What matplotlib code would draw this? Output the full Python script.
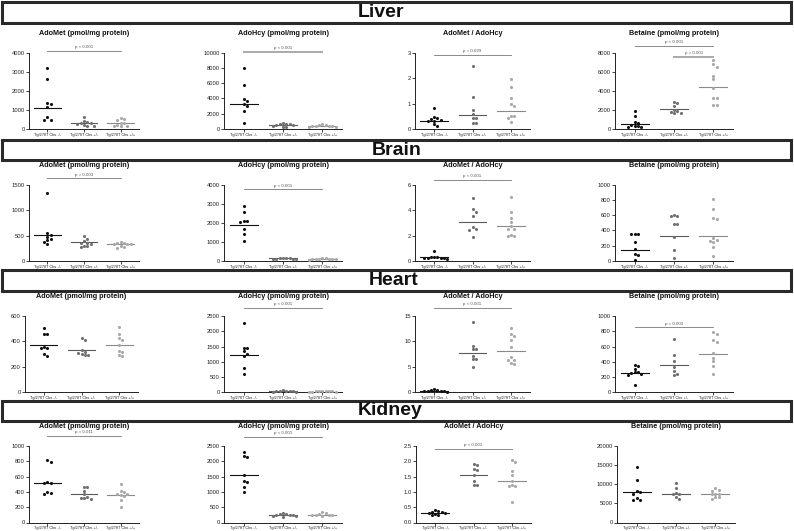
import matplotlib
matplotlib.use("Agg")
import matplotlib.pyplot as plt
from matplotlib.patches import Rectangle
import numpy as np

plt.rcParams['font.family'] = ['Liberation Sans', 'DejaVu Sans']

groups = ['TgI278T Cbs -/-', 'TgI278T Cbs +/-', 'TgI278T Cbs +/+']
organs = ['Liver', 'Brain', 'Heart', 'Kidney']
titles = ['AdoMet (pmol/mg protein)', 'AdoHcy (pmol/mg protein)',
          'AdoMet / AdoHcy', 'Betaine (pmol/mg protein)']

# ---- Liver ----
liver_adomet = [[3200, 2620, 1345, 1293, 1135, 611, 472, 472],
                [650, 420, 380, 330, 300, 260, 230, 180, 160],
                [560, 520, 470, 340, 300, 200, 170, 160, 150]]
liver_adomet_med = [1083, 300, 300]
liver_adohcy = [[7950, 5800, 3890, 3710, 3280, 3010, 2310, 740],
                [750, 700, 650, 600, 550, 500, 450, 300, 250],
                [600, 550, 500, 450, 420, 400, 350, 300, 250]]
liver_adohcy_med = [3230, 550, 400]
liver_ratio = [[0.82, 0.46, 0.42, 0.4, 0.36, 0.33, 0.3, 0.2, 0.1],
               [2.48, 1.25, 0.75, 0.6, 0.42, 0.42, 0.25, 0.22],
               [1.97, 1.65, 1.23, 1.0, 0.92, 0.52, 0.5, 0.42, 0.26]]
liver_ratio_med = [0.33, 0.55, 0.71]
liver_betaine = [[1900, 1400, 700, 650, 450, 350, 300, 250, 200],
                 [2850, 2700, 2400, 2000, 1900, 1750, 1700, 1650],
                 [7200, 6800, 6550, 5600, 5200, 4300, 3300, 3200, 2550, 2500]]
liver_betaine_med = [520, 2060, 4370]

# ---- Brain ----
brain_adomet = [[1340, 560, 510, 480, 440, 410, 380, 330],
                [500, 440, 400, 360, 350, 340, 300, 290, 280],
                [380, 350, 345, 340, 335, 330, 300, 270, 250]]
brain_adomet_med = [520, 365, 326]
brain_adohcy = [[2890, 2570, 2120, 2090, 2020, 1670, 1410, 1040],
                [170, 160, 150, 140, 130, 120, 110, 100],
                [160, 140, 130, 120, 110, 100, 90, 80, 70]]
brain_adohcy_med = [1913, 139, 104]
brain_ratio = [[0.78, 0.35, 0.3, 0.28, 0.25, 0.22, 0.2, 0.2, 0.18],
               [4.95, 4.05, 3.85, 3.55, 2.65, 2.55, 2.45, 1.9],
               [5.05, 3.85, 3.35, 3.05, 2.75, 2.5, 2.5, 2.05, 2.0, 2.0]]
brain_ratio_med = [0.29, 3.08, 2.77]
brain_betaine = [[360, 355, 350, 250, 155, 90, 80, 15],
                 [600, 590, 590, 490, 480, 320, 145, 45],
                 [810, 680, 570, 545, 300, 280, 260, 245, 190, 70]]
brain_betaine_med = [143, 326, 330]

# ---- Heart ----
heart_adomet = [[505, 460, 455, 355, 350, 345, 300, 285],
                [430, 415, 330, 320, 310, 300, 295, 290],
                [515, 455, 425, 415, 375, 325, 315, 295, 285]]
heart_adomet_med = [375, 333, 375]
heart_adohcy = [[2280, 1460, 1440, 1350, 1250, 1190, 800, 590],
                [60, 50, 45, 40, 35, 30, 25, 20],
                [50, 45, 40, 35, 30, 30, 25, 20, 20]]
heart_adohcy_med = [1207, 30, 25]
heart_ratio = [[0.7, 0.5, 0.4, 0.35, 0.3, 0.25, 0.2, 0.15],
               [13.9, 9.2, 8.6, 8.5, 7.2, 6.6, 6.5, 4.9],
               [12.7, 11.4, 11.0, 10.2, 9.0, 6.9, 6.4, 6.3, 5.7, 5.5]]
heart_ratio_med = [0.26, 7.73, 8.06]
heart_betaine = [[360, 350, 310, 270, 265, 255, 240, 230, 90],
                 [705, 490, 405, 330, 275, 240, 230],
                 [790, 760, 690, 660, 515, 450, 405, 350, 240]]
heart_betaine_med = [251, 352, 502]

# ---- Kidney ----
kidney_adomet = [[815, 795, 535, 520, 515, 395, 385, 375],
                 [470, 465, 415, 370, 335, 325, 320, 305],
                 [500, 410, 400, 380, 370, 360, 345, 290, 200]]
kidney_adomet_med = [518, 377, 355]
kidney_adohcy = [[2310, 2170, 2160, 1550, 1350, 1335, 1160, 1000],
                 [300, 280, 270, 260, 240, 230, 220, 200, 190],
                 [330, 300, 280, 260, 250, 240, 230, 220]]
kidney_adohcy_med = [1568, 241, 252]
kidney_ratio = [[0.4, 0.38, 0.36, 0.34, 0.32, 0.3, 0.28, 0.26, 0.24],
                [1.91, 1.87, 1.74, 1.71, 1.55, 1.36, 1.24, 1.22],
                [2.04, 1.98, 1.7, 1.55, 1.36, 1.22, 1.18, 1.18, 0.67]]
kidney_ratio_med = [0.32, 1.55, 1.36]
kidney_betaine = [[14550, 11250, 8250, 8000, 7550, 6400, 5800, 5800],
                  [10350, 9050, 7700, 7400, 7350, 6650, 6150],
                  [9100, 8400, 8250, 7550, 7500, 7350, 6650, 6600, 6150]]
kidney_betaine_med = [7980, 7544, 7544]

data = [[liver_adomet, liver_adohcy, liver_ratio, liver_betaine],
        [brain_adomet, brain_adohcy, brain_ratio, brain_betaine],
        [heart_adomet, heart_adohcy, heart_ratio, heart_betaine],
        [kidney_adomet, kidney_adohcy, kidney_ratio, kidney_betaine]]
medians = [[liver_adomet_med, liver_adohcy_med, liver_ratio_med, liver_betaine_med],
           [brain_adomet_med, brain_adohcy_med, brain_ratio_med, brain_betaine_med],
           [heart_adomet_med, heart_adohcy_med, heart_ratio_med, heart_betaine_med],
           [kidney_adomet_med, kidney_adohcy_med, kidney_ratio_med, kidney_betaine_med]]

# y axis: (top, step, label format)
yaxes = [[(4000, 1000, '{:.0f}'), (10000, 2000, '{:.0f}'), (3, 1, '{:.0f}'), (8000, 2000, '{:.0f}')],
         [(1500, 500, '{:.0f}'), (4000, 1000, '{:.0f}'), (6, 2, '{:.0f}'), (1000, 200, '{:.0f}')],
         [(600, 200, '{:.0f}'), (2500, 500, '{:.0f}'), (15, 5, '{:.0f}'), (1000, 200, '{:.0f}')],
         [(1000, 200, '{:.0f}'), (2500, 500, '{:.0f}'), (2.5, 0.5, '{:.1f}'), (20000, 5000, '{:.0f}')]]

# p-value brackets: (row, col, from, to, y, text)
pvalues = [(0, 0, 0, 2, 4090, 'p < 0.001'),
           (0, 1, 0, 2, 10130, 'p < 0.001'),
           (0, 2, 0, 2, 2.91, 'p = 0.029'),
           (0, 3, 0, 2, 8730, 'p < 0.001'),
           (0, 3, 1, 2, 7580, 'p = 0.001'),
           (1, 0, 0, 2, 1623, 'p = 0.003'),
           (1, 1, 0, 2, 3755, 'p < 0.001'),
           (1, 2, 0, 2, 6.39, 'p < 0.001'),
           (2, 1, 0, 2, 2774, 'p < 0.001'),
           (2, 2, 0, 2, 16.6, 'p < 0.001'),
           (2, 3, 0, 2, 853, 'p = 0.003'),
           (3, 0, 0, 2, 1132, 'p = 0.011'),
           (3, 1, 0, 2, 2809, 'p < 0.001'),
           (3, 2, 0, 2, 2.42, 'p < 0.001')]

W, H = 794, 531
fig = plt.figure(figsize=(W / 100, H / 100), dpi=100)
fig.patch.set_facecolor('white')

dot_colors = ['#111111', '#707070', '#a9a9a9']
line_colors = ['#111111', '#5a5a5a', '#8a8a8a']

# pixel layout
boxes = [(2, 22.5), (140, 160.5), (270, 290.5), (401, 420.5)]
organ_x = [381, 397, 394, 390]
zero_px = [129, 261, 392.3, 522.5]
ax_h = 76.3
lefts = [[29, 224, 415, 615], [29, 224, 415, 615], [25, 224, 415, 615], [29, 224, 416, 617]]
widths = [[110, 118, 115, 118], [110, 118, 115, 118], [113, 118, 115, 118], [110, 118, 115, 118]]


def swarm(values, top, cat_px, d=3.3):
    ypx = np.array(values, float) / top * ax_h
    order = np.argsort(-ypx)
    placed = []
    xs = np.zeros(len(values))
    for i in order:
        for k in [0, 1, -1, 2, -2, 3, -3, 4, -4, 5, -5]:
            x = k * d
            if all((x - px) ** 2 + (ypx[i] - py) ** 2 >= d ** 2 for px, py in placed):
                break
        placed.append((x, ypx[i]))
        xs[i] = x / cat_px
    return xs


axes = {}
for r in range(4):
    y0, y1 = boxes[r]
    fig.patches.append(Rectangle((2 / W, 1 - y1 / H), 789 / W, (y1 - y0) / H,
                                 transform=fig.transFigure, fill=False,
                                 edgecolor='#2a2a2a', linewidth=2.2))
    fig.text(organ_x[r] / W, 1 - (y0 + y1) / 2 / H, organs[r], ha='center', va='center',
             fontsize=14, fontweight='bold', color='#111111')
    for c in range(4):
        top, step, fmt = yaxes[r][c]
        ax = fig.add_axes([lefts[r][c] / W, 1 - zero_px[r] / H,
                           widths[r][c] / W, ax_h / H])
        axes[(r, c)] = ax
        cat_px = widths[r][c] / 3
        for g in range(3):
            vals = data[r][c][g]
            off = swarm(vals, top, cat_px)
            ax.scatter(g + off, vals, s=5, color=dot_colors[g], linewidths=0,
                       zorder=3, clip_on=False)
            ax.plot([g - 0.36, g + 0.36], [medians[r][c][g]] * 2,
                    color=line_colors[g], linewidth=0.8, zorder=2)
        ax.set_xlim(-0.5, 2.5)
        ax.set_ylim(0, top)
        ticks = np.arange(0, top + step / 2, step)
        ax.set_yticks(ticks)
        ax.set_yticklabels([fmt.format(t) for t in ticks])
        ax.set_xticks([0, 1, 2])
        ax.set_xticklabels(groups)
        ax.tick_params(axis='y', labelsize=4.2, length=2, width=0.6, pad=1, colors='#222222')
        ax.tick_params(axis='x', labelsize=2.8, length=1.8, width=0.6, pad=0.8, colors='#222222')
        for s in ['top', 'right']:
            ax.spines[s].set_visible(False)
        for s in ['left', 'bottom']:
            ax.spines[s].set_linewidth(0.7)
            ax.spines[s].set_color('#222222')
        ax.patch.set_alpha(0)
        ax.text(0.5, 1 + 19.5 / ax_h, titles[c], transform=ax.transAxes,
                ha='center', va='center', fontsize=5.2, fontweight='bold',
                color='#111111')

for r, c, a, b, y, txt in pvalues:
    ax = axes[(r, c)]
    thick = (r == 0 and (c == 1 or (c == 3 and a == 1)))
    ax.plot([a, b], [y, y], color='#aaaaaa' if thick else '#777777',
            linewidth=1.4 if thick else 0.6, clip_on=False, zorder=1)
    ax.annotate(txt, xy=((a + b) / 2, y), xytext=(0, 1.2), textcoords='offset points',
                ha='center', va='bottom', fontsize=3.2, color='#555555',
                annotation_clip=False)

fig.savefig('out.png', dpi=100, facecolor='white')
